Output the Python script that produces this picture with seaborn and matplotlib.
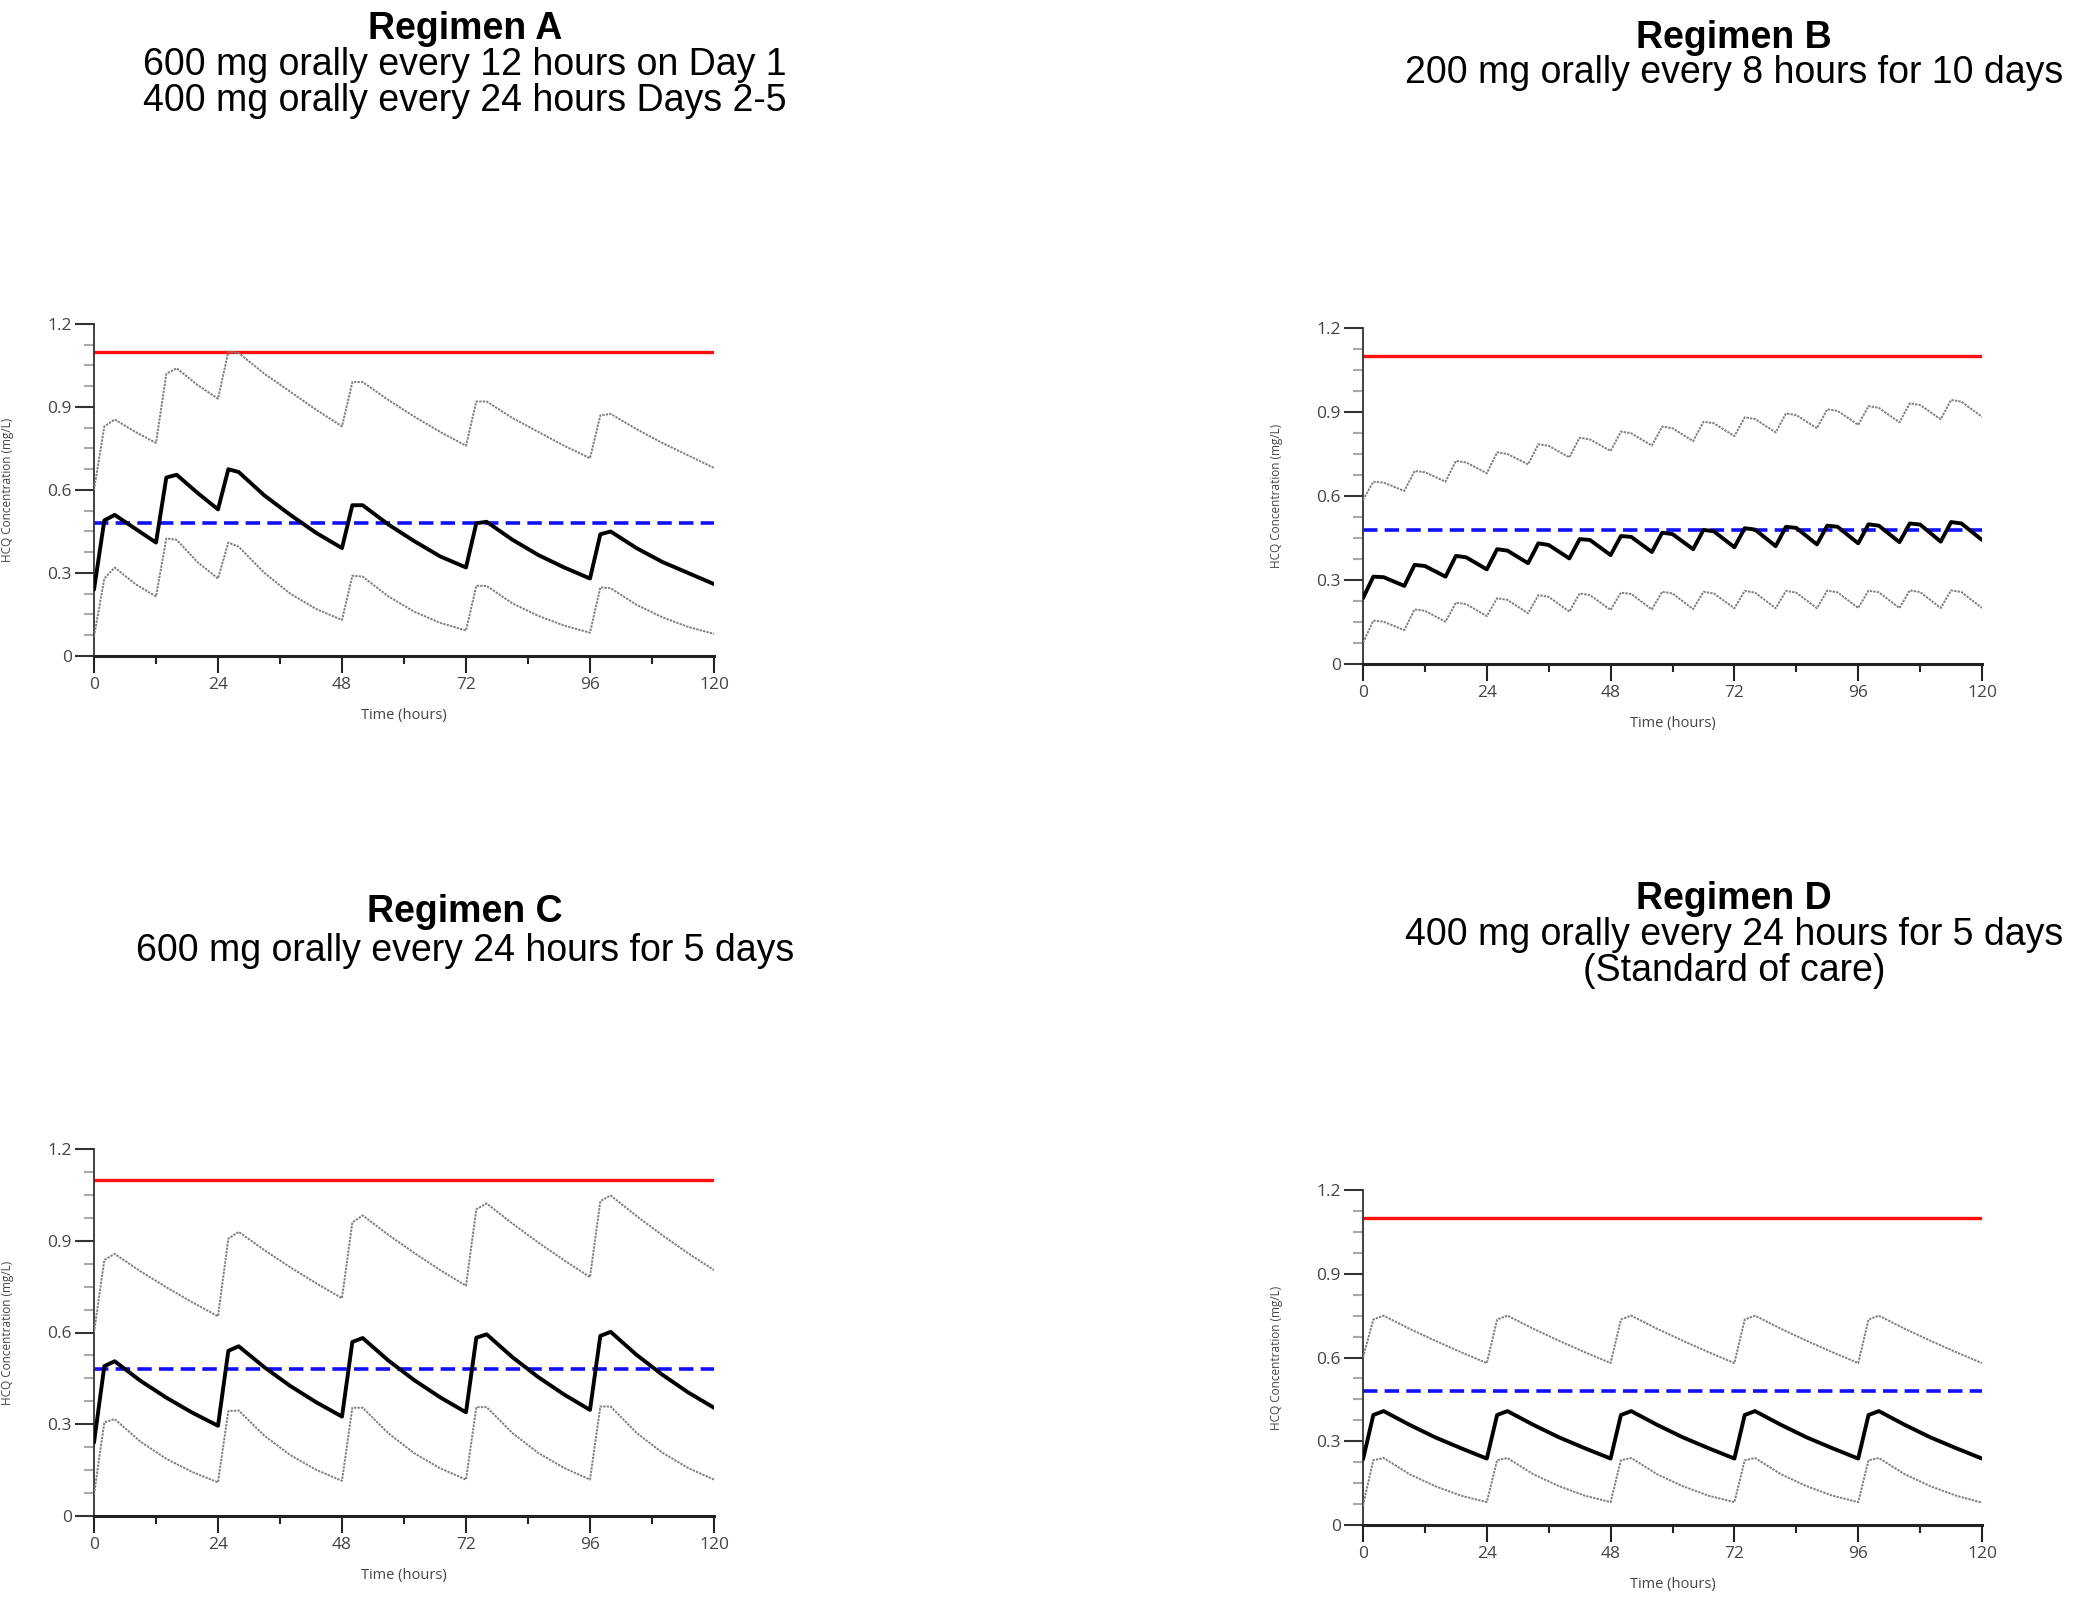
import seaborn as sns
import matplotlib.pyplot as plt
from matplotlib.ticker import MultipleLocator

OUT_PATH = 'out.png'

TOXIC_LEVEL = 1.1
TARGET_LEVEL = 0.48

# Regimen A: 600 mg q12h day 1, then 400 mg q24h
time_a = [0, 2, 4, 8, 12, 14, 16, 20, 24, 26, 28, 33, 38, 43, 48, 50, 52, 57, 62, 67,
          72, 74, 76, 81, 86, 91, 96, 98, 100, 105, 110, 115, 120]
median_a = [0.24, 0.49, 0.51, 0.46, 0.41, 0.645, 0.655, 0.59, 0.53, 0.675, 0.665, 0.58, 0.51,
            0.445, 0.39, 0.545, 0.545, 0.475, 0.415, 0.36, 0.32, 0.48, 0.485, 0.42, 0.365,
            0.32, 0.28, 0.44, 0.45, 0.39, 0.34, 0.30, 0.26]
upper_a = [0.60, 0.83, 0.855, 0.81, 0.77, 1.02, 1.04, 0.98, 0.93, 1.10, 1.095, 1.02, 0.955,
           0.89, 0.83, 0.99, 0.99, 0.925, 0.865, 0.81, 0.76, 0.92, 0.92, 0.86, 0.81, 0.76,
           0.715, 0.87, 0.875, 0.82, 0.77, 0.725, 0.68]
lower_a = [0.07, 0.28, 0.32, 0.26, 0.215, 0.425, 0.42, 0.34, 0.28, 0.41, 0.395, 0.30, 0.225,
           0.17, 0.13, 0.29, 0.287, 0.215, 0.16, 0.12, 0.092, 0.254, 0.253, 0.19, 0.145,
           0.11, 0.084, 0.248, 0.245, 0.185, 0.14, 0.105, 0.08]

# Regimen B: 200 mg q8h
time_b = [0, 2, 4, 8, 10, 12, 16, 18, 20, 24, 26, 28, 32, 34, 36, 40, 42, 44, 48, 50, 52,
          56, 58, 60, 64, 66, 68, 72, 74, 76, 80, 82, 84, 88, 90, 92, 96, 98, 100, 104,
          106, 108, 112, 114, 116, 120]
median_b = [0.235, 0.312, 0.31, 0.279, 0.354, 0.35, 0.312, 0.386, 0.381, 0.338, 0.41, 0.405,
            0.36, 0.431, 0.425, 0.377, 0.446, 0.443, 0.389, 0.457, 0.454, 0.40, 0.469, 0.464,
            0.41, 0.479, 0.474, 0.417, 0.485, 0.48, 0.421, 0.49, 0.486, 0.427, 0.494, 0.49,
            0.431, 0.499, 0.494, 0.435, 0.502, 0.498, 0.437, 0.507, 0.502, 0.443]
upper_b = [0.586, 0.651, 0.648, 0.618, 0.689, 0.685, 0.651, 0.725, 0.72, 0.681, 0.756, 0.75,
           0.713, 0.785, 0.779, 0.738, 0.808, 0.802, 0.761, 0.83, 0.824, 0.78, 0.848, 0.842,
           0.796, 0.865, 0.86, 0.814, 0.881, 0.875, 0.827, 0.895, 0.889, 0.842, 0.91, 0.904,
           0.854, 0.921, 0.915, 0.863, 0.931, 0.925, 0.874, 0.943, 0.937, 0.883]
lower_b = [0.076, 0.155, 0.151, 0.121, 0.195, 0.19, 0.151, 0.219, 0.214, 0.171, 0.235, 0.229,
           0.181, 0.246, 0.24, 0.187, 0.252, 0.246, 0.193, 0.255, 0.25, 0.195, 0.258, 0.252,
           0.196, 0.258, 0.252, 0.199, 0.261, 0.255, 0.199, 0.261, 0.255, 0.199, 0.262, 0.256,
           0.20, 0.262, 0.256, 0.20, 0.263, 0.257, 0.20, 0.263, 0.257, 0.20]

# Regimen C: 600 mg q24h
time_c = [0, 2, 4, 9, 14, 19, 24, 26, 28, 33, 38, 43, 48, 50, 52, 57, 62, 67, 72, 74, 76,
          81, 86, 91, 96, 98, 100, 105, 110, 115, 120]
median_c = [0.24, 0.49, 0.506, 0.442, 0.387, 0.338, 0.295, 0.54, 0.555, 0.486, 0.425, 0.372,
            0.325, 0.569, 0.582, 0.508, 0.444, 0.388, 0.339, 0.583, 0.594, 0.519, 0.454,
            0.397, 0.347, 0.589, 0.602, 0.527, 0.462, 0.404, 0.354]
upper_c = [0.60, 0.837, 0.857, 0.80, 0.748, 0.699, 0.653, 0.907, 0.929, 0.869, 0.813, 0.761,
           0.712, 0.96, 0.983, 0.919, 0.86, 0.804, 0.753, 1.003, 1.022, 0.956, 0.894, 0.836,
           0.781, 1.03, 1.048, 0.981, 0.918, 0.859, 0.804]
lower_c = [0.07, 0.306, 0.317, 0.243, 0.187, 0.144, 0.11, 0.343, 0.345, 0.262, 0.199, 0.151,
           0.115, 0.354, 0.354, 0.27, 0.205, 0.156, 0.119, 0.356, 0.356, 0.271, 0.206, 0.157,
           0.119, 0.358, 0.358, 0.272, 0.207, 0.157, 0.119]

# Regimen D: 400 mg q24h (standard of care)
time_d = [0, 2, 4, 9, 14, 19, 24, 26, 28, 33, 38, 43, 48, 50, 52, 57, 62, 67, 72, 74, 76,
          81, 86, 91, 96, 98, 100, 105, 110, 115, 120]
median_d = [0.235, 0.394, 0.408, 0.359, 0.314, 0.275, 0.238, 0.394, 0.408, 0.359, 0.314,
            0.275, 0.238, 0.394, 0.408, 0.359, 0.314, 0.275, 0.238, 0.394, 0.408, 0.359,
            0.314, 0.275, 0.238, 0.394, 0.408, 0.359, 0.314, 0.275, 0.238]
upper_d = [0.60, 0.736, 0.75, 0.703, 0.66, 0.619, 0.58, 0.736, 0.75, 0.703, 0.66, 0.619, 0.58,
           0.736, 0.75, 0.703, 0.66, 0.619, 0.58, 0.736, 0.75, 0.703, 0.66, 0.619, 0.58,
           0.736, 0.75, 0.703, 0.66, 0.619, 0.58]
lower_d = [0.07, 0.232, 0.24, 0.182, 0.139, 0.105, 0.082, 0.232, 0.24, 0.182, 0.139, 0.105,
           0.082, 0.232, 0.24, 0.182, 0.139, 0.105, 0.082, 0.232, 0.24, 0.182, 0.139, 0.105,
           0.082, 0.232, 0.24, 0.182, 0.139, 0.105, 0.08]

titles = ['Regimen A', 'Regimen B', 'Regimen C', 'Regimen D']
subtitles = [
    ['600 mg orally every 12 hours on Day 1', '400 mg orally every 24 hours Days 2-5'],
    ['200 mg orally every 8 hours for 10 days'],
    ['600 mg orally every 24 hours for 5 days'],
    ['400 mg orally every 24 hours for 5 days', '(Standard of care)'],
]
x_ticks = [0, 24, 48, 72, 96, 120]
y_ticks = [0, 0.3, 0.6, 0.9, 1.2]
y_tick_labels = ['0', '0.3', '0.6', '0.9', '1.2']


def main():
    sns.set_theme(style='ticks')
    plt.rcParams['font.family'] = ['Open Sans', 'DejaVu Sans']

    W, H = 2100, 1601
    fig = plt.figure(figsize=(W / 100, H / 100), dpi=100)

    # axes boxes in pixels: left, top, width, height
    boxes = [(94, 324, 620, 332), (1363, 328, 619, 336),
             (94, 1149, 620, 367), (1363, 1190, 619, 335)]
    # title line centres in pixels: x, [y...]
    title_pos = [(465, [29, 65, 101]), (1734, [38, 73]),
                 (465, [912, 951]), (1734, [899, 935, 971])]

    data = [(time_a, median_a, upper_a, lower_a),
            (time_b, median_b, upper_b, lower_b),
            (time_c, median_c, upper_c, lower_c),
            (time_d, median_d, upper_d, lower_d)]

    for i, (t, med, up, lo) in enumerate(data):
        l, top, w, h = boxes[i]
        ax = fig.add_axes([l / W, 1 - (top + h) / H, w / W, h / H])

        ax.axhline(TOXIC_LEVEL, color='#ff1010', lw=2.4, zorder=2)
        ax.axhline(TARGET_LEVEL, color='#1010ff', lw=2.6, ls=(0, (4, 2)), zorder=2)
        sns.lineplot(x=t, y=up, ax=ax, color='#7f7f7f', lw=1.4, ls=(0, (1.2, 0.6)), zorder=3)
        sns.lineplot(x=t, y=lo, ax=ax, color='#7f7f7f', lw=1.4, ls=(0, (1.2, 0.6)), zorder=3)
        sns.lineplot(x=t, y=med, ax=ax, color='black', lw=2.8, zorder=4)

        ax.set_xlim(0, 120)
        ax.set_ylim(0, 1.2)
        ax.set_xticks(x_ticks)
        ax.set_yticks(y_ticks)
        ax.set_yticklabels(y_tick_labels)
        ax.xaxis.set_minor_locator(MultipleLocator(12))
        ax.yaxis.set_minor_locator(MultipleLocator(0.075))

        sns.despine(ax=ax)
        ax.spines['left'].set_linewidth(1.3)
        ax.spines['left'].set_color('#333333')
        ax.spines['bottom'].set_linewidth(2.2)
        ax.spines['bottom'].set_color('#222222')
        ax.tick_params(axis='y', which='major', length=14, width=1.5, color='#333333',
                       labelsize=12.5, labelcolor='#444444', pad=2)
        ax.tick_params(axis='y', which='minor', length=7, width=1.5, color='#aaaaaa')
        ax.tick_params(axis='x', which='major', length=12, width=1.5, color='#222222',
                       labelsize=12.5, labelcolor='#444444', pad=3)
        ax.tick_params(axis='x', which='minor', length=6, width=1.5, color='#222222')

        ax.set_xlabel('Time (hours)', fontsize=10.5, color='#444444')
        ax.set_ylabel('HCQ Concentration (mg/L)', fontsize=8.5, color='#444444')
        ax.xaxis.set_label_coords(0.5, -52 / h)
        ax.yaxis.set_label_coords(-80 / w, 0.5)

        cx, ys = title_pos[i]
        lines = [titles[i]] + subtitles[i]
        for j, (txt, y) in enumerate(zip(lines, ys)):
            fig.text(cx / W, 1 - y / H, txt, ha='center', va='center',
                     fontsize=27, family='Liberation Sans',
                     fontweight='bold' if j == 0 else 'normal', color='black')

    fig.savefig(OUT_PATH, dpi=100, facecolor='white')
    print(f"Figure saved to {OUT_PATH}")


if __name__ == '__main__':
    main()
